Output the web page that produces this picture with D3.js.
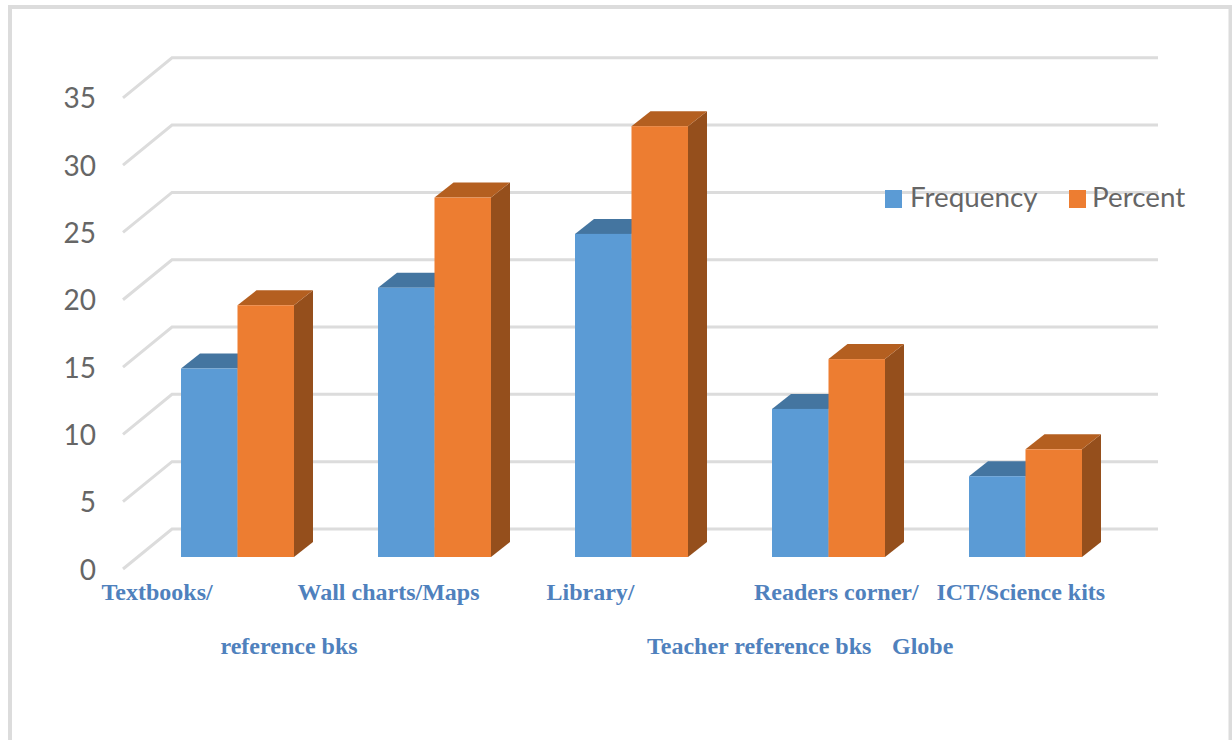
<!DOCTYPE html>
<html><head><meta charset="utf-8">
<script src="https://cdnjs.cloudflare.com/ajax/libs/d3/7.8.5/d3.min.js"></script>
<style>html,body{margin:0;padding:0;background:#fff}svg{display:block}</style>
</head><body><div id="chart"></div>
<script>
const categories = ["Textbooks/reference bks","Wall charts/Maps","Library/Teacher reference bks","Readers corner/Globe","ICT/Science kits"];
const frequency = [14,20,24,11,6];
const percent = [18.7,26.7,32,14.7,8];
const ticks = [0,5,10,15,20,25,30,35];
const seriesNames = ["Frequency","Percent"];
const labelRow1 = ["Textbooks/","Wall charts/Maps","Library/","Readers corner/","ICT/Science kits"];
const labelRow2 = ["reference bks","Teacher reference bks","Globe"];

const W=1232,H=740;
const svg=d3.select("#chart").append("svg").attr("width",W).attr("height",H);
// frame
svg.append("path").attr("d",`M10,${H} V7 H1230.5 V${H}`).attr("fill","none").attr("stroke","#dcdcdc").attr("stroke-width",4);

const y=d3.scaleLinear().domain([0,35]).range([557,85.8]);
const x=d3.scaleBand().domain(categories).range([132.5,1117.5]).paddingInner(0).paddingOuter(0);
const inner=d3.scaleBand().domain(seriesNames).range([48.5,161.5]);
const depth={dx:19,dy:-15};
const wall={dx:49,dy:-40,front:12};

// gridlines (floor-to-wall perspective)
const grid=svg.append("g");
ticks.forEach(t=>{
  const yf=y(t)+wall.front, xf=123;
  grid.append("path")
    .attr("d",`M${xf},${yf} L${xf+wall.dx},${yf+wall.dy} H1158`)
    .attr("fill","none").attr("stroke","#dcdcdc").attr("stroke-width",3);
});
// tick labels via axis generator
const axis=d3.axisLeft(y).tickValues(ticks).tickSize(0).tickPadding(0);
const ag=svg.append("g").attr("transform","translate(96,0)").call(axis);
ag.select(".domain").remove();
ag.selectAll("text").attr("fill","#666666").attr("font-family","Lato").attr("font-size",28).attr("dy","0.36em").attr("text-anchor","end")
  .attr("y",wall.front);

// legend: the gridline passes under it
const legend=svg.append("g").attr("font-family","Lato").attr("font-size",27.8).attr("fill","#666666");
[[885,910,"#5b9bd5"],[1069,1092,"#ed7d31"]].forEach((p,i)=>{
  legend.append("rect").attr("x",p[0]).attr("y",190).attr("width",17).attr("height",18).attr("fill",p[2]);
  legend.append("text").attr("x",p[1]).attr("y",207).text(seriesNames[i]);
});

const colors={Frequency:{front:"#5b9bd5",top:"#4475a0",side:"#41719c"},Percent:{front:"#ed7d31",top:"#b45f20",side:"#954f1c"}};
const bars=svg.append("g");
categories.forEach((c,i)=>{
  [["Frequency",frequency[i]],["Percent",percent[i]]].forEach(([s,v])=>{
    const x0=x(c)+inner(s), bw=inner.bandwidth(), yt=y(v), yb=y(0), col=colors[s];
    bars.append("path").attr("d",`M${x0+bw},${yt} l${depth.dx},${depth.dy} V${yb+depth.dy} L${x0+bw},${yb} Z`).attr("fill",col.side);
    bars.append("path").attr("d",`M${x0},${yt} l${depth.dx},${depth.dy} h${bw} l${-depth.dx},${-depth.dy} Z`).attr("fill",col.top);
    bars.append("rect").attr("x",x0).attr("y",yt).attr("width",bw).attr("height",yb-yt).attr("fill",col.front);
  });
});

// category labels
const lab=svg.append("g").attr("font-family","Liberation Serif").attr("font-weight","bold").attr("font-size",24).attr("fill","#4f81bd");
const row1x=[101.5,297.5,546.5,754,936.5], row2x=[220.5,647,892];
labelRow1.forEach((t,i)=>lab.append("text").attr("x",row1x[i]).attr("y",600).text(t));
labelRow2.forEach((t,i)=>lab.append("text").attr("x",row2x[i]).attr("y",654).text(t));
</script></body></html>
